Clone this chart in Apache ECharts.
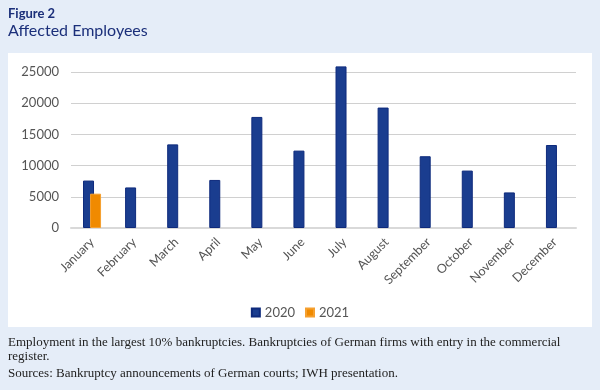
<!DOCTYPE html>
<html><head><meta charset="utf-8">
<script src="https://cdn.jsdelivr.net/npm/echarts@6/dist/echarts.min.js"></script>
<style>html,body{margin:0;padding:0;background:#e5edf8}#c{width:600px;height:390px}</style>
</head><body><div id="c"></div>
<script>
const months = ['January','February','March','April','May','June','July','August','September','October','November','December'];
const values2020 = [7600, 6500, 13400, 7700, 17800, 12400, 25900, 19300, 11500, 9200, 5700, 13300];
const values2021 = [5500, null, null, null, null, null, null, null, null, null, null, null];
const yTicks = [0, 5000, 10000, 15000, 20000, 25000];
const figLabel = 'Figure 2';
const figTitle = 'Affected Employees';
const noteLines = ['Employment in the largest 10% bankruptcies. Bankruptcies of German firms with entry in the commercial', 'register.'];
const sourceLine = 'Sources: Bankruptcy announcements of German courts; IWH presentation.';

const chart = echarts.init(document.getElementById('c'), null, {renderer:'canvas'});
const sans = 'Lato, "Open Sans", sans-serif';
const serif = '"Liberation Serif", "DejaVu Serif", serif';
chart.setOption({
  backgroundColor: '#e5edf8',
  animation: false,
  graphic: [
    {type:'rect', shape:{x:8,y:53,width:584,height:274}, style:{fill:'#ffffff'}, z:-1},
    {type:'text', left:8, top:7, style:{text:figLabel, font:'bold 13px '+sans, fill:'#1b2f7a'}},
    {type:'text', left:8, top:23, style:{text:figTitle, font:'16px '+sans, fill:'#1b2f7a'}},
    {type:'text', left:8, top:336, style:{text:noteLines.join('\n'), font:'13px '+serif, fill:'#222', lineHeight:14}},
    {type:'text', left:8, top:367, style:{text:sourceLine, font:'13px '+serif, fill:'#222'}}
  ],
  legend: {
    data:['2020','2021'], top: 301, left:'center', itemWidth:8, itemHeight:8, itemGap:10,
    icon:'rect', textStyle:{fontFamily:sans, fontSize:13, color:'#555'}
  },
  grid: {left:71, right:24, top:72, bottom:162, containLabel:false},
  xAxis: {
    type:'category', data: months,
    axisLine:{lineStyle:{color:'#d9d9d9', width:2}},
    axisTick:{show:false},
    axisLabel:{rotate:45, fontFamily:sans, fontSize:12.5, color:'#555', interval:0, margin:12}
  },
  yAxis: {
    type:'value', min:0, max: yTicks[yTicks.length-1], interval:5000,
    axisLine:{show:false}, axisTick:{show:false},
    axisLabel:{fontFamily:sans, fontSize:13, color:'#555', margin:12, formatter: v => String(v)},
    splitLine:{lineStyle:{color:'#d0d0d0', width:1}}
  },
  series: [
    {name:'2020', type:'bar', data: values2020, barWidth:11, barGap:'-36%', clip:false,
     itemStyle:{color:'#1a3d8f', borderColor:'#0e2a7c', borderWidth:1}},
    {name:'2021', type:'bar', data: values2021, barWidth:11, clip:false,
     itemStyle:{color:'#f08a00', borderColor:'#f5a030', borderWidth:1}}
  ]
});
</script></body></html>
